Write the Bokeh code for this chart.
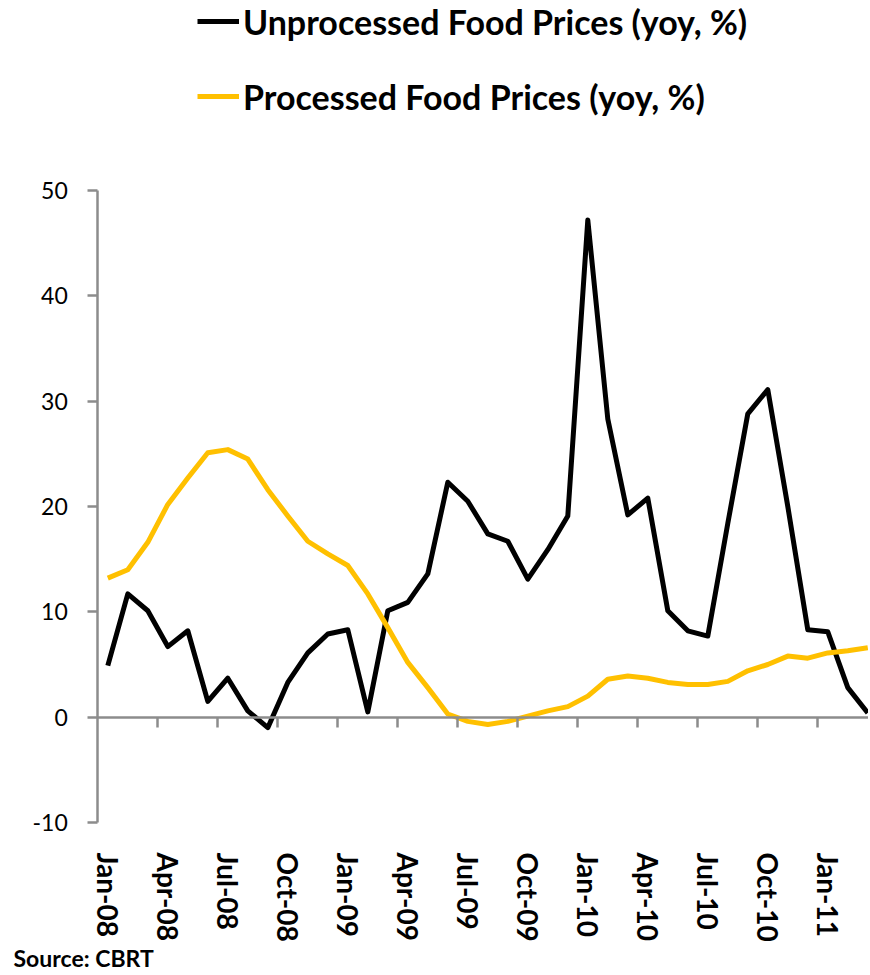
from bokeh.plotting import figure
from bokeh.models import (LinearAxis, FixedTicker, Range1d, Legend, LegendItem,
                          Label, ColumnDataSource)
from bokeh.embed import file_html
from bokeh.resources import INLINE

# ---------------- data ----------------
months = ["Jan-08", "Feb-08", "Mar-08", "Apr-08", "May-08", "Jun-08", "Jul-08", "Aug-08",
          "Sep-08", "Oct-08", "Nov-08", "Dec-08", "Jan-09", "Feb-09", "Mar-09", "Apr-09",
          "May-09", "Jun-09", "Jul-09", "Aug-09", "Sep-09", "Oct-09", "Nov-09", "Dec-09",
          "Jan-10", "Feb-10", "Mar-10", "Apr-10", "May-10", "Jun-10", "Jul-10", "Aug-10",
          "Sep-10", "Oct-10", "Nov-10", "Dec-10", "Jan-11", "Feb-11", "Mar-11"]

unprocessed = [4.9, 11.7, 10.1, 6.7, 8.2, 1.5, 3.7, 0.6, -1.0, 3.3, 6.1, 7.9, 8.3, 0.5,
               10.1, 10.9, 13.6, 22.3, 20.5, 17.4, 16.7, 13.1, 15.9, 19.1, 47.2, 28.3,
               19.2, 20.8, 10.1, 8.2, 7.7, 18.4, 28.8, 31.1, 20.0, 8.3, 8.1, 2.8, 0.4]

processed = [13.2, 14.0, 16.6, 20.2, 22.7, 25.1, 25.4, 24.5, 21.6, 19.1, 16.7, 15.5, 14.4,
             11.7, 8.5, 5.2, 2.8, 0.3, -0.4, -0.7, -0.4, 0.1, 0.6, 1.0, 2.0, 3.6, 3.9,
             3.7, 3.3, 3.1, 3.1, 3.4, 4.4, 5.0, 5.8, 5.6, 6.1, 6.3, 6.6]

y_ticks = [-10, 0, 10, 20, 30, 40, 50]
series_names = ["Unprocessed Food Prices (yoy, %)", "Processed Food Prices (yoy, %)"]
source_text = "Source: CBRT"

# ---------------- layout ----------------
GRAY = "#8C8C8C"
FONT = "Lato"
W, H = 868, 973
n = len(months)
xs = list(range(n))
label_step = 3
label_idx = list(range(0, n, label_step))
boundaries = [i - 0.5 for i in range(label_step, n, label_step)]

y_lo, y_hi = y_ticks[0], y_ticks[-1]
# pixel placement of the plotting box inside the whole canvas
px_left, px_top, px_bottom, px_per_cat = 97.3, 190.0, 822.0, 20.0
x_start = -0.5 - px_left / px_per_cat
x_end = x_start + W / px_per_cat
py = (px_bottom - px_top) / (y_hi - y_lo)
y_end = y_hi + px_top / py
y_start = y_lo - (H - px_bottom) / py

p = figure(width=W, height=H, x_range=Range1d(x_start, x_end),
           y_range=Range1d(y_start, y_end),
           x_axis_type=None, y_axis_type=None, output_backend="svg",
           toolbar_location=None, min_border=0, outline_line_color=None,
           background_fill_color="white", border_fill_color="white")

yax = LinearAxis(fixed_location=-0.5, bounds=(y_lo, y_hi),
                 ticker=FixedTicker(ticks=y_ticks),
                 major_label_overrides={v: str(v) for v in y_ticks},
                 axis_line_color=GRAY, axis_line_width=2.5,
                 major_tick_line_color=GRAY, major_tick_line_width=2.5,
                 major_tick_out=10, major_tick_in=0, minor_tick_line_color=None,
                 major_label_text_font=FONT, major_label_text_font_size="23px",
                 major_label_text_color="black", major_label_standoff=20)
p.add_layout(yax, "left")

zax = LinearAxis(fixed_location=0, bounds=(-0.5, n - 0.5),
                 ticker=FixedTicker(ticks=boundaries),
                 axis_line_color=GRAY, axis_line_width=2.5,
                 major_tick_line_color=GRAY, major_tick_line_width=2.5,
                 major_tick_out=10, major_tick_in=0, minor_tick_line_color=None,
                 major_label_text_font_size="0px")
p.add_layout(zax, "below")

lax = LinearAxis(fixed_location=y_lo, ticker=FixedTicker(ticks=label_idx),
                 major_label_overrides={i: months[i] for i in label_idx},
                 axis_line_color=None, major_tick_line_color=None,
                 minor_tick_line_color=None, major_tick_out=0, major_tick_in=0,
                 major_label_orientation="vertical",
                 major_label_text_font=FONT, major_label_text_font_style="bold",
                 major_label_text_font_size="28px", major_label_text_color="black",
                 major_label_standoff=30)
p.add_layout(lax, "below")

src = ColumnDataSource(dict(x=xs, unproc=unprocessed, proc=processed))
r1 = p.line("x", "unproc", source=src, line_color="black", line_width=5,
            line_join="round")
r2 = p.line("x", "proc", source=src, line_color="#FFC000", line_width=5,
            line_join="round")

row_h, gap = 42, 33
legend_h = 2 * row_h + gap
legend = Legend(items=[LegendItem(label=series_names[0], renderers=[r1]),
                       LegendItem(label=series_names[1], renderers=[r2])],
                location=(197, H - legend_h), orientation="vertical",
                glyph_width=42, glyph_height=row_h, label_height=row_h,
                spacing=gap, padding=0, margin=0, border_line_color=None,
                background_fill_alpha=0, label_text_font=FONT,
                label_text_font_style="bold", label_text_font_size="34px",
                label_text_color="black", label_standoff=4)
p.add_layout(legend, "center")

p.add_layout(Label(x=13, y=16, x_units="screen", y_units="screen",
                   text=source_text, text_font=FONT, text_font_style="bold",
                   text_font_size="23px", text_color="black",
                   text_baseline="middle"))

open("out.html", "w").write(file_html(p, INLINE))
